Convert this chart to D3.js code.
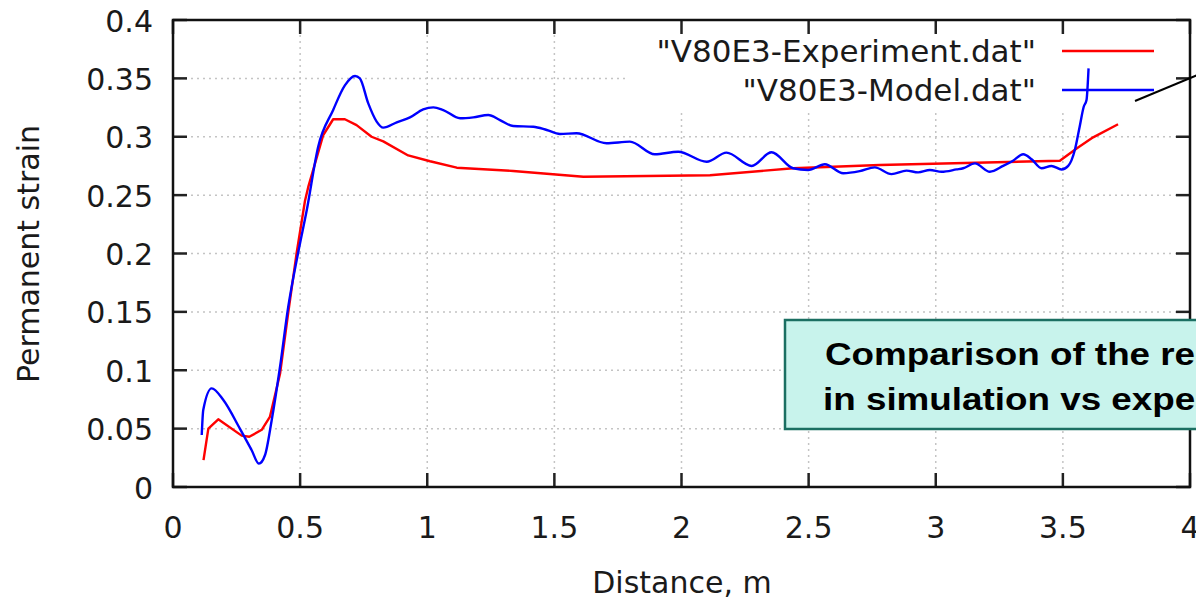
<!DOCTYPE html>
<html>
<head>
<meta charset="utf-8">
<script src="https://cdn.jsdelivr.net/npm/d3@7"></script>
<style>
  html, body { margin: 0; padding: 0; background: #fff; }
  svg { display: block; }
  .lbl { font-family: "DejaVu Sans", sans-serif; font-size: 30px; fill: #1a1a1a; }
  .key { font-size: 31px; }
</style>
</head>
<body>
<svg id="chart" width="1196" height="598"></svg>
<script>
// experiment curve (distance m, strain)
const expX = [0.12, 0.139, 0.178, 0.27, 0.30, 0.349, 0.381, 0.421, 0.453, 0.486, 0.519, 0.532, 0.591, 0.630, 0.676, 0.722, 0.781, 0.827, 0.925, 1.011, 1.116, 1.338, 1.614, 2.112, 2.439, 2.78, 3.488, 3.554, 3.619, 3.717];
const expY = [0.023, 0.050, 0.058, 0.044, 0.043, 0.049, 0.060, 0.097, 0.149, 0.200, 0.245, 0.257, 0.3015, 0.315, 0.315, 0.310, 0.300, 0.296, 0.284, 0.279, 0.2735, 0.2707, 0.2658, 0.267, 0.273, 0.2758, 0.2795, 0.290, 0.2995, 0.3107];

// model curve
const modX = [0.113, 0.119, 0.152, 0.198, 0.263, 0.309, 0.338, 0.362, 0.388, 0.421, 0.453, 0.493, 0.526, 0.571, 0.630, 0.676, 0.716, 0.735, 0.768, 0.801, 0.827, 0.880, 0.932, 0.984, 1.024, 1.063, 1.129, 1.181, 1.240, 1.286, 1.338, 1.417, 1.470, 1.522, 1.587, 1.705, 1.797, 1.895, 1.987, 2.099, 2.177, 2.276, 2.354, 2.439, 2.498, 2.564, 2.636, 2.701, 2.760, 2.826, 2.885, 2.931, 2.977, 3.023, 3.082, 3.108, 3.154, 3.213, 3.265, 3.304, 3.344, 3.377, 3.416, 3.455, 3.495, 3.521, 3.547, 3.566, 3.582, 3.593, 3.601];
const modY = [0.0445, 0.066, 0.0845, 0.0745, 0.050, 0.0317, 0.020, 0.0274, 0.057, 0.103, 0.154, 0.2015, 0.237, 0.2915, 0.323, 0.344, 0.352, 0.350, 0.3286, 0.313, 0.3078, 0.3124, 0.3166, 0.3235, 0.3252, 0.3229, 0.3158, 0.3166, 0.3186, 0.3143, 0.3092, 0.3086, 0.3058, 0.3024, 0.303, 0.2944, 0.2958, 0.285, 0.2872, 0.2786, 0.2864, 0.275, 0.2867, 0.273, 0.2715, 0.2764, 0.2687, 0.2705, 0.2738, 0.268, 0.271, 0.2695, 0.2715, 0.270, 0.272, 0.273, 0.2772, 0.270, 0.275, 0.2795, 0.285, 0.2807, 0.273, 0.275, 0.272, 0.275, 0.2886, 0.3086, 0.3257, 0.3315, 0.3586];

const xTicks = [0, 0.5, 1, 1.5, 2, 2.5, 3, 3.5, 4];
const xTickLabels = ['0', '0.5', '1', '1.5', '2', '2.5', '3', '3.5', '4'];
const yTicks = [0, 0.05, 0.1, 0.15, 0.2, 0.25, 0.3, 0.35, 0.4];
const yTickLabels = ['0', '0.05', '0.1', '0.15', '0.2', '0.25', '0.3', '0.35', '0.4'];
const seriesNames = ['"V80E3-Experiment.dat"', '"V80E3-Model.dat"'];
const seriesColors = ['#ff0000', '#0000ff'];
const calloutLines = ['Comparison of the re', 'in simulation vs expe'];

const svg = d3.select('#chart');
const x = d3.scaleLinear().domain([0, 4]).range([173, 1190]);
const y = d3.scaleLinear().domain([0, 0.4]).range([487, 20]);
const [x0, x1] = x.range();
const [y0, y1] = y.range();

// grid
const grid = svg.append('g').attr('stroke', '#c4c4c4').attr('stroke-width', 1.5).attr('stroke-dasharray', '2,4');
xTicks.slice(1, -1).forEach(t => {
  grid.append('line').attr('x1', x(t)).attr('x2', x(t)).attr('y1', y0).attr('y2', y1);
});
yTicks.slice(1, -1).forEach(t => {
  grid.append('line').attr('x1', x0).attr('x2', x1).attr('y1', y(t)).attr('y2', y(t));
});

// key background hides grid
svg.append('rect').attr('x', 629).attr('y', y1 + 2).attr('width', x1 - 629 - 2).attr('height', 88).attr('fill', '#fff');

// ticks on all four sides, pointing in
const tk = svg.append('g').attr('stroke', '#222').attr('stroke-width', 2.5);
xTicks.forEach(t => {
  tk.append('line').attr('x1', x(t)).attr('x2', x(t)).attr('y1', y0).attr('y2', y0 - 14);
  tk.append('line').attr('x1', x(t)).attr('x2', x(t)).attr('y1', y1).attr('y2', y1 + 14);
});
yTicks.forEach(t => {
  tk.append('line').attr('x1', x0).attr('x2', x0 + 14).attr('y1', y(t)).attr('y2', y(t));
  tk.append('line').attr('x1', x1).attr('x2', x1 - 14).attr('y1', y(t)).attr('y2', y(t));
});

// border
svg.append('rect').attr('x', x0).attr('y', y1).attr('width', x1 - x0).attr('height', y0 - y1)
  .attr('fill', 'none').attr('stroke', '#111').attr('stroke-width', 2.5);

// tick labels
svg.append('g').selectAll('text').data(xTicks).join('text')
  .attr('class', 'lbl').attr('x', d => x(d)).attr('y', 527)
  .attr('text-anchor', 'middle').attr('dominant-baseline', 'central')
  .text((d, i) => xTickLabels[i]);
svg.append('g').selectAll('text').data(yTicks).join('text')
  .attr('class', 'lbl').attr('x', 153).attr('y', d => y(d) + 1)
  .attr('text-anchor', 'end').attr('dominant-baseline', 'central')
  .text((d, i) => yTickLabels[i]);

svg.append('text').attr('class', 'lbl').attr('x', 682).attr('y', 582)
  .attr('text-anchor', 'middle').attr('dominant-baseline', 'central').text('Distance, m');
svg.append('text').attr('class', 'lbl')
  .attr('transform', 'translate(28,254) rotate(-90)')
  .attr('text-anchor', 'middle').attr('dominant-baseline', 'central').text('Permanent strain');

// data lines
const expData = expX.map((v, i) => [v, expY[i]]);
const modData = modX.map((v, i) => [v, modY[i]]);
svg.append('path').datum(expData)
  .attr('fill', 'none').attr('stroke', seriesColors[0]).attr('stroke-width', 2.4)
  .attr('stroke-linejoin', 'round')
  .attr('d', d3.line().x(d => x(d[0])).y(d => y(d[1])));
svg.append('path').datum(modData)
  .attr('fill', 'none').attr('stroke', seriesColors[1]).attr('stroke-width', 2.4)
  .attr('stroke-linejoin', 'round')
  .attr('d', d3.line().x(d => x(d[0])).y(d => y(d[1])).curve(d3.curveMonotoneX));

// key
const keyY = [51, 90];
seriesNames.forEach((name, i) => {
  svg.append('text').attr('class', 'lbl key').attr('x', 1036).attr('y', keyY[i])
    .attr('text-anchor', 'end').attr('dominant-baseline', 'central').text(name);
  svg.append('line').attr('x1', 1062).attr('x2', 1154).attr('y1', keyY[i]).attr('y2', keyY[i])
    .attr('stroke', seriesColors[i]).attr('stroke-width', 2.4);
});

// slide annotation pointer
svg.append('line').attr('x1', 1135).attr('y1', 101).attr('x2', 1200).attr('y2', 74)
  .attr('stroke', '#000').attr('stroke-width', 2);

// callout box
svg.append('rect').attr('x', 785).attr('y', 320).attr('width', 460).attr('height', 109)
  .attr('fill', '#c8f3ec').attr('stroke', '#1b6f62').attr('stroke-width', 2.5);
const callX = [825, 823];
const callY = [365, 410];
calloutLines.forEach((t, i) => {
  const txt = svg.append('text').attr('x', callX[i]).attr('y', callY[i])
    .attr('font-family', '"Liberation Sans", Arial, sans-serif').attr('font-weight', 'bold')
    .attr('font-size', 32).attr('fill', '#000').text(t);
  const len = txt.node().getComputedTextLength();
  txt.attr('textLength', len * 1.15).attr('lengthAdjust', 'spacingAndGlyphs');
});
</script>
</body>
</html>
